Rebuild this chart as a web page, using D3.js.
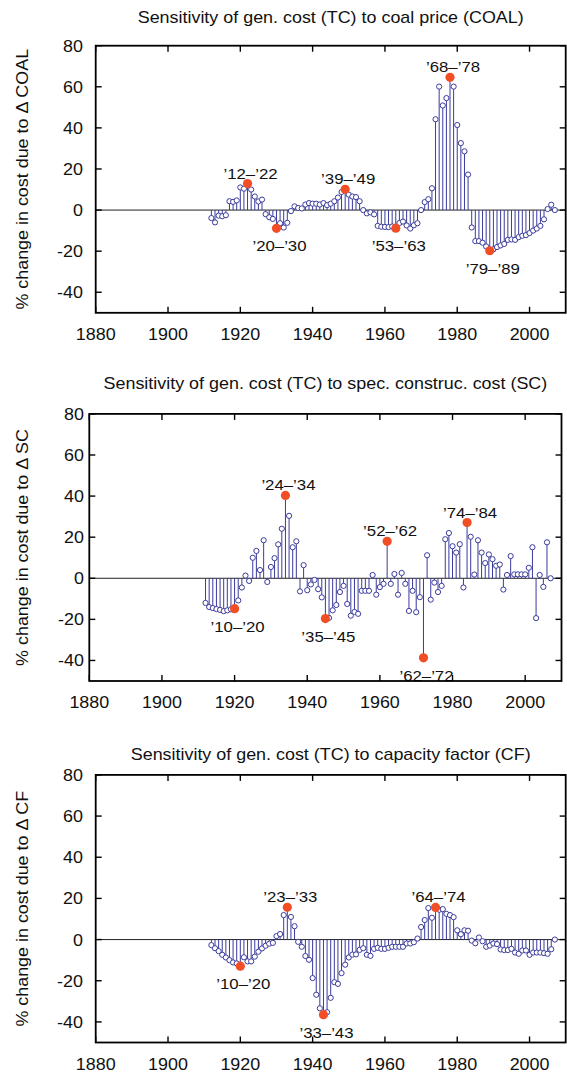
<!DOCTYPE html>
<html><head><meta charset="utf-8">
<script src="https://cdn.jsdelivr.net/npm/d3@7"></script>
<style>
body{margin:0;background:#fff}
svg{display:block}
text{font-family:"Liberation Sans",Arial,Helvetica,sans-serif;fill:#111}
</style>
</head><body>
<svg id="chart" width="567" height="1074"></svg>
<script>
// ---------- data ----------
const years = d3.range(1912, 2008);           // 1912 ... 2007
const xTicks = [1880, 1900, 1920, 1940, 1960, 1980, 2000];
const yTicks = [-40, -20, 0, 20, 40, 60, 80];

const titles = [
  "Sensitivity of gen. cost (TC) to coal price (COAL)",
  "Sensitivity of gen. cost (TC) to spec. construc. cost (SC)",
  "Sensitivity of gen. cost (TC) to capacity factor (CF)"
];
const yLabels = [
  "% change in cost due to Δ COAL",
  "% change in cost due to Δ SC",
  "% change in cost due to Δ CF"
];

const coalValues = [
  -3.9, -6, -2.7, -3, -2.5, 4.3, 4, 4.7, 11, 10.4,
  12.9, 10, 6.6, 4.2, 5.1, -2, -3.5, -4.3, -8.9, -6.4,
  -8.5, -6.2, -0.5, 1.8, 1.0, 0.8, 2.7, 3.4, 3.1, 3.1,
  2.7, 3.4, 2.4, 3.1, 4.3, 6.1, 8.8, 10.1, 7.5, 6.6,
  6.3, 4.3, 0, -1.6, -1.1, -2.1, -7.7, -8.1, -8.2, -8.3,
  -8, -8.8, -6.3, -5.6, -7.5, -9, -7.4, -6.4, 0, 3.9,
  5.3, 10.6, 44.2, 60.1, 50.9, 54.5, 64.6, 60.1, 41.4, 32.6,
  28.6, 17.3, -8.5, -15.1, -15.1, -15.9, -17.7, -19.8, -19.1, -18,
  -17.2, -16.5, -14.5, -14.3, -14.5, -13.2, -12.5, -12.2, -11.2, -10,
  -9, -7.7, -4.5, 0.5, 2.6, 0
];
const scValues = [
  -12, -14, -14.5, -15, -15.4, -16, -15.6, -15.1, -14.8, -10.8,
  -4.5, 1.3, -1.3, 10, 13.3, 4, 18.5, -1.8, 5.5, 9.8,
  16.5, 24.1, 40.3, 30.4, 15.1, 18, -6.4, 6.4, -5.8, -3,
  -0.8, -5.3, -9.3, -19.6, -19.3, -15.6, -13, -6.7, -3.7, -12.5,
  -18.2, -16.4, -17.3, -6.1, -6.1, -6.1, 1.6, -8, -4.3, -2.7,
  18, -2.7, 2.1, -8, 2.6, -2.7, -15.9, -6.1, -16.5, -9.2,
  -38.7, 11.2, -10.4, -2.1, -6.7, -3.7, 19, 22, 15.6, 12.5,
  16.6, -4.5, 27.1, 20.2, 1.8, 18.5, 12.5, 7.4, 11.6, 9.3,
  6.1, 6.7, -5.5, 1.6, 10.8, 1.9, 1.9, 1.9, 1.9, 5.1,
  15.1, -19.4, 1.6, -4.2, 17.5, 0
];
const cfValues = [
  -2.7, -4.2, -5.6, -7.4, -8.7, -10, -11.1, -11.6, -12.9, -8.6,
  -10.6, -10.6, -8.3, -5.9, -4.3, -3, -2, -1.6, 1.7, 2.7,
  11.9, 15.7, 11, 6.5, -1.1, -3.5, -8, -9.8, -18.7, -26.8,
  -33.4, -36.5, -35.3, -28.3, -20.7, -21.5, -16.3, -12.2, -8.7, -7.3,
  -7.2, -5, -4.2, -7.4, -7.9, -4.5, -4, -4.5, -4.5, -4,
  -3.5, -3.5, -3.5, -3.5, -1.9, -1.9, -1.3, 0.5, 6.1, 9.5,
  15.3, 10.6, 15.6, 14.5, 14.8, 12.5, 11.9, 10.9, 4.5, 2.6,
  4.5, 4.3, -0.5, -1.8, 1, -0.8, -3.5, -2.9, -1.9, -2.2,
  -4.8, -5.1, -5.1, -4.5, -6.3, -6.9, -5.3, -5.3, -7.4, -6.3,
  -6.3, -6.3, -6.6, -6.9, -4.7, 0
];

const coalHiYears = [1922, 1930, 1949, 1963, 1978, 1989];
const coalHiLabels = ["’12–’22", "’20–’30", "’39–’49", "’53–’63", "’68–’78", "’79–’89"];
const scHiYears = [1920, 1934, 1945, 1962, 1972, 1984];
const scHiLabels = ["’10–’20", "’24–’34", "’35–’45", "’52–’62", "’62–’72", "’74–’84"];
const cfHiYears = [1920, 1933, 1943, 1974];
const cfHiLabels = ["’10–’20", "’23–’33", "’33–’43", "’64–’74"];

// ---------- layout ----------
const panels = [
  {title: titles[0], ylabel: yLabels[0], values: coalValues, hiYears: coalHiYears, hiLabels: coalHiLabels,
   left: 95.7, right: 565.7, top: 45.7, bottom: 312.8, titleY: 23, tickRight: 83},
  {title: titles[1], ylabel: yLabels[1], values: scValues, hiYears: scHiYears, hiLabels: scHiLabels,
   left: 89.3, right: 561.5, top: 413.9, bottom: 681, titleY: 389, tickRight: 84},
  {title: titles[2], ylabel: yLabels[2], values: cfValues, hiYears: cfHiYears, hiLabels: cfHiLabels,
   left: 95.7, right: 565.7, top: 774.9, bottom: 1042.5, titleY: 760, tickRight: 83}
];

const stemColor = "#3b3b9d";
const redColor = "#f24e26";
const SX = 1.12;   // horizontal glyph widening

const svg = d3.select("#chart");

function txt(g, x, y, s, size, anchor, rot) {
  const t = g.append("text")
    .attr("transform", `translate(${x},${y})` + (rot ? ` rotate(${rot})` : "") + ` scale(${SX},1)`)
    .attr("font-size", size)
    .attr("text-anchor", anchor)
    .text(s);
  return t;
}

panels.forEach(p => {
  const g = svg.append("g");
  const x = d3.scaleLinear().domain([1880, 2010]).range([p.left, p.right]);
  const y = d3.scaleLinear().domain([-50, 80]).range([p.bottom, p.top]);

  // title
  txt(g, (p.left + p.right) / 2, p.titleY, p.title, 16, "middle");
  // y label
  txt(g, 28, (p.top + p.bottom) / 2, p.ylabel, 16, "middle", -90);

  // zero line
  g.append("line").attr("x1", p.left).attr("x2", p.right)
    .attr("y1", y(0)).attr("y2", y(0))
    .attr("stroke", "#222").attr("stroke-width", 1);

  // ticks (inward, all four sides)
  const tl = 6;
  xTicks.forEach(t => {
    g.append("line").attr("x1", x(t)).attr("x2", x(t)).attr("y1", p.bottom).attr("y2", p.bottom - tl)
      .attr("stroke", "#000").attr("stroke-width", 1.4);
    g.append("line").attr("x1", x(t)).attr("x2", x(t)).attr("y1", p.top).attr("y2", p.top + tl)
      .attr("stroke", "#000").attr("stroke-width", 1.4);
    txt(g, x(t), p.bottom + 27, String(t), 16, "middle");
  });
  yTicks.forEach(t => {
    g.append("line").attr("x1", p.left).attr("x2", p.left + tl).attr("y1", y(t)).attr("y2", y(t))
      .attr("stroke", "#000").attr("stroke-width", 1.4);
    g.append("line").attr("x1", p.right).attr("x2", p.right - tl).attr("y1", y(t)).attr("y2", y(t))
      .attr("stroke", "#000").attr("stroke-width", 1.4);
    txt(g, p.tickRight, y(t) + 6, String(t), 16, "end");
  });

  const data = years.map((yr, i) => ({yr, v: p.values[i]}));
  const hiSet = new Set(p.hiYears);

  // stems
  g.selectAll(".stem").data(data).enter().append("line")
    .attr("x1", d => x(d.yr)).attr("x2", d => x(d.yr))
    .attr("y1", y(0)).attr("y2", d => y(d.v))
    .attr("stroke", stemColor).attr("stroke-width", 1);

  // hollow markers
  g.selectAll(".mk").data(data.filter(d => !hiSet.has(d.yr))).enter().append("circle")
    .attr("cx", d => x(d.yr)).attr("cy", d => y(d.v)).attr("r", 2.6)
    .attr("fill", "#fff").attr("stroke", stemColor).attr("stroke-width", 1);

  // highlighted points + labels
  p.hiYears.forEach((yr, k) => {
    const v = p.values[years.indexOf(yr)];
    g.append("circle").attr("cx", x(yr)).attr("cy", y(v)).attr("r", 4.6).attr("fill", redColor);
    const ly = v >= 0 ? y(v) - 5 : y(v) + 23;
    txt(g, x(yr) + 3, ly, p.hiLabels[k], 15, "middle");
  });

  // frame
  g.append("rect").attr("x", p.left).attr("y", p.top)
    .attr("width", p.right - p.left).attr("height", p.bottom - p.top)
    .attr("fill", "none").attr("stroke", "#000").attr("stroke-width", 1.8);
});
</script>
</body></html>
